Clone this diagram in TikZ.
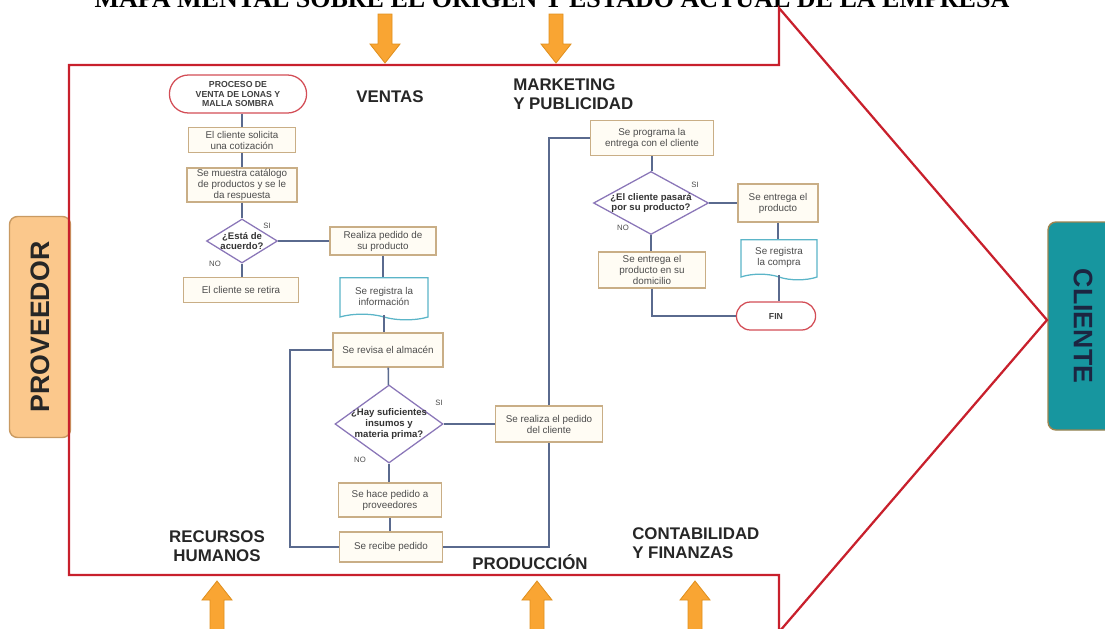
\documentclass[tikz,border=0pt]{standalone}
\usepackage{fontspec}
\setmainfont{Liberation Sans}
\newfontfamily\titlefont{Liberation Serif}
\usetikzlibrary{shapes.geometric, shapes.misc, shapes.symbols}

\definecolor{arrowred}{HTML}{C8202C}
\definecolor{boxtan}{HTML}{C9AE86}
\definecolor{boxfill}{HTML}{FFFCF4}
\definecolor{docteal}{HTML}{5BB5C8}
\definecolor{decpurple}{HTML}{8A76B8}
\definecolor{linkblue}{HTML}{5A6A8E}
\definecolor{bigorange}{HTML}{F9A533}
\definecolor{orangeedge}{HTML}{E0901E}
\definecolor{provfill}{HTML}{FBC88C}
\definecolor{provedge}{HTML}{C99A62}
\definecolor{clifill}{HTML}{17969F}
\definecolor{cliedge}{HTML}{9C8450}
\definecolor{clitext}{HTML}{1C2541}

\tikzset{
  procbox/.style={rectangle, draw=boxtan, fill=boxfill, line width=0.9pt, align=center,
    inner sep=1pt, font=\fontsize{7}{7.8}\selectfont, text=black!70},
  decision/.style={diamond, draw=decpurple, fill=white, line width=0.9pt, inner sep=0pt},
  dectext/.style={align=center, inner sep=0pt, font=\bfseries\fontsize{6.8}{7.6}\selectfont, text=black!80},
  docbox/.style={tape, tape bend top=none, tape bend bottom=out and in, tape bend height=1.4mm,
    draw=docteal, fill=white, line width=0.9pt, align=center, inner sep=1pt,
    font=\fontsize{7}{7.8}\selectfont, text=black!70},
  terminal/.style={rounded rectangle, draw=arrowred!80, fill=white, line width=0.9pt, align=center,
    inner sep=1pt, font=\bfseries\fontsize{6.2}{6.8}\selectfont, text=black!75},
  link/.style={draw=linkblue, line width=1.1pt},
  yesno/.style={font=\fontsize{5.5}{6}\selectfont, text=black!70, inner sep=0pt},
  area/.style={font=\bfseries\fontsize{12}{13.5}\selectfont, text=black!85, inner sep=0pt},
  bigarrow/.style={fill=bigorange, draw=orangeedge, line width=0.6pt},
  sidebox/.style={rectangle, rounded corners=2mm, line width=1pt,
    font=\bfseries\fontsize{19}{20}\selectfont, inner sep=0pt}
}

\begin{document}
\begin{tikzpicture}[x=0.25mm, y=-0.25mm]
  \useasboundingbox (0,0) rectangle (1105,628);

  % titulo (cortado arriba)
  \node[anchor=base, inner sep=0pt, font=\titlefont\bfseries\fontsize{18.5}{20}\selectfont] (titulo) at (552,8)
    {MAPA MENTAL SOBRE EL ORIGEN Y ESTADO ACTUAL DE LA EMPRESA};

  % extremos
  \node[sidebox, draw=provedge, fill=provfill, text=black!85, minimum width=55.25mm, minimum height=15.25mm, rotate=90] (proveedor) at (40,327) {PROVEEDOR};
  \node[sidebox, draw=cliedge, fill=clifill, text=clitext, minimum width=52mm, minimum height=17.5mm, rotate=-90] (cliente) at (1083,326) {CLIENTE};

  % flecha grande
  \draw[arrowred, line width=1.6pt, line join=miter] (69,65) -- (779,65) -- (779,8) -- (1047,320) -- (779,632) -- (779,575) -- (69,575) -- cycle;

  % flechas naranjas
  \foreach \ax in {385,556}
    \draw[bigarrow] (\ax-7,14) -- (\ax+7,14) -- (\ax+7,44) -- (\ax+15,44) -- (\ax,63) -- (\ax-15,44) -- (\ax-7,44) -- cycle;
  \foreach \ax in {217,537,695}
    \draw[bigarrow] (\ax-7,632) -- (\ax+7,632) -- (\ax+7,600) -- (\ax+15,600) -- (\ax,581) -- (\ax-15,600) -- (\ax-7,600) -- cycle;

  % areas
  \node[area] (ventas) at (390,97) {VENTAS};
  \node[area, anchor=west, align=left] (marketing) at (513,94) {MARKETING\\Y PUBLICIDAD};
  \node[area, align=center] (rrhh) at (217,546) {RECURSOS\\HUMANOS};
  \node[area] (produccion) at (530,562) {PRODUCCIÓN};
  \node[area, anchor=west, align=left] (contabilidad) at (632,543) {CONTABILIDAD\\Y FINANZAS};

  % ventas
  \node[terminal, minimum width=35mm, minimum height=9.5mm] (inicio) at (238,94) {PROCESO DE\\VENTA DE LONAS Y\\MALLA SOMBRA};
  \node[procbox, minimum width=26.75mm, minimum height=6.25mm] (cotiza) at (242,140) {El cliente solicita\\una cotización};
  \node[procbox, minimum width=27.5mm, minimum height=8.5mm] (catalogo) at (242,185) {Se muestra catálogo\\de productos y se le\\da respuesta};
  \node[decision, minimum width=17.75mm, minimum height=11mm, label={[dectext]center:{¿Está de\\acuerdo?}}] (acuerdo) at (242,241) {};
  \node[procbox, minimum width=28.75mm, minimum height=6.25mm] (retira) at (241,290) {El cliente se retira};
  \node[procbox, minimum width=26.5mm, minimum height=7mm] (realiza) at (383,241) {Realiza pedido de\\su producto};
  \node[docbox, minimum width=22mm, minimum height=10.5mm] (registra) at (384,296) {Se registra la\\información};
  \node[yesno] (si1) at (267,226) {SI};
  \node[yesno] (no1) at (215,264) {NO};

  % produccion
  \node[procbox, minimum width=27.5mm, minimum height=8.5mm] (revisa) at (388,350) {Se revisa el almacén};
  \node[decision, minimum width=27mm, minimum height=19.5mm, label={[dectext]center:{¿Hay suficientes\\insumos y\\materia prima?}}] (insumos) at (389,424) {};
  \node[procbox, minimum width=25.75mm, minimum height=8.5mm] (hace) at (390,500) {Se hace pedido a\\proveedores};
  \node[procbox, minimum width=25.75mm, minimum height=7.5mm] (recibe) at (391,547) {Se recibe pedido};
  \node[procbox, minimum width=26.75mm, minimum height=9mm] (pedcli) at (549,424) {Se realiza el pedido\\del cliente};
  \node[yesno] (si2) at (439,403) {SI};
  \node[yesno] (no2) at (360,460) {NO};
  \coordinate (lazo) at (290,547);

  % entrega
  \node[procbox, minimum width=30.75mm, minimum height=8.75mm] (programa) at (652,138) {Se programa la\\entrega con el cliente};
  \node[decision, minimum width=28.75mm, minimum height=15.75mm, label={[dectext]center:{¿El cliente pasará\\por su producto?}}] (pasara) at (651,203) {};
  \node[procbox, minimum width=20mm, minimum height=9.5mm] (entrega) at (778,203) {Se entrega el\\producto};
  \node[docbox, minimum width=19mm, minimum height=10mm] (compra) at (779,257) {Se registra\\la compra};
  \node[procbox, minimum width=26.75mm, minimum height=9mm] (domicilio) at (652,270) {Se entrega el\\producto en su\\domicilio};
  \node[terminal, minimum width=20.5mm, minimum height=7mm] (fin) at (776,316) {FIN};
  \node[yesno] (si3) at (695,185) {SI};
  \node[yesno] (no3) at (623,228) {NO};

  % conexiones
  \draw[link] (inicio.south -| cotiza.north) -- (cotiza.north);
  \draw[link] (cotiza) -- (catalogo);
  \draw[link] (catalogo) -- (acuerdo);
  \draw[link] (acuerdo.south) -- (acuerdo.south |- retira.north);
  \draw[link] (acuerdo) -- (realiza);
  \draw[link] (realiza.south) -- (realiza.south |- registra.north);
  \draw[link] (registra.south) -- (registra.south |- revisa.north);
  \draw[link] (revisa) -- (insumos);
  \draw[link] (insumos.south) -- (insumos.south |- hace.north);
  \draw[link] (hace.south) -- (hace.south |- recibe.north);
  \draw[link] (recibe.west) -- (lazo) |- (revisa.west);
  \draw[link] (insumos) -- (pedcli);
  \draw[link] (recibe.east) -| (pedcli.south);
  \draw[link] (pedcli.north) |- (programa.west);
  \draw[link] (programa.south) -- (programa.south |- pasara.north);
  \draw[link] (pasara) -- (entrega);
  \draw[link] (pasara.south) -- (pasara.south |- domicilio.north);
  \draw[link] (entrega.south) -- (entrega.south |- compra.north);
  \draw[link] (compra.south) -- (compra.south |- fin.north);
  \draw[link] (domicilio.south) |- (fin.west);
\end{tikzpicture}
\end{document}
